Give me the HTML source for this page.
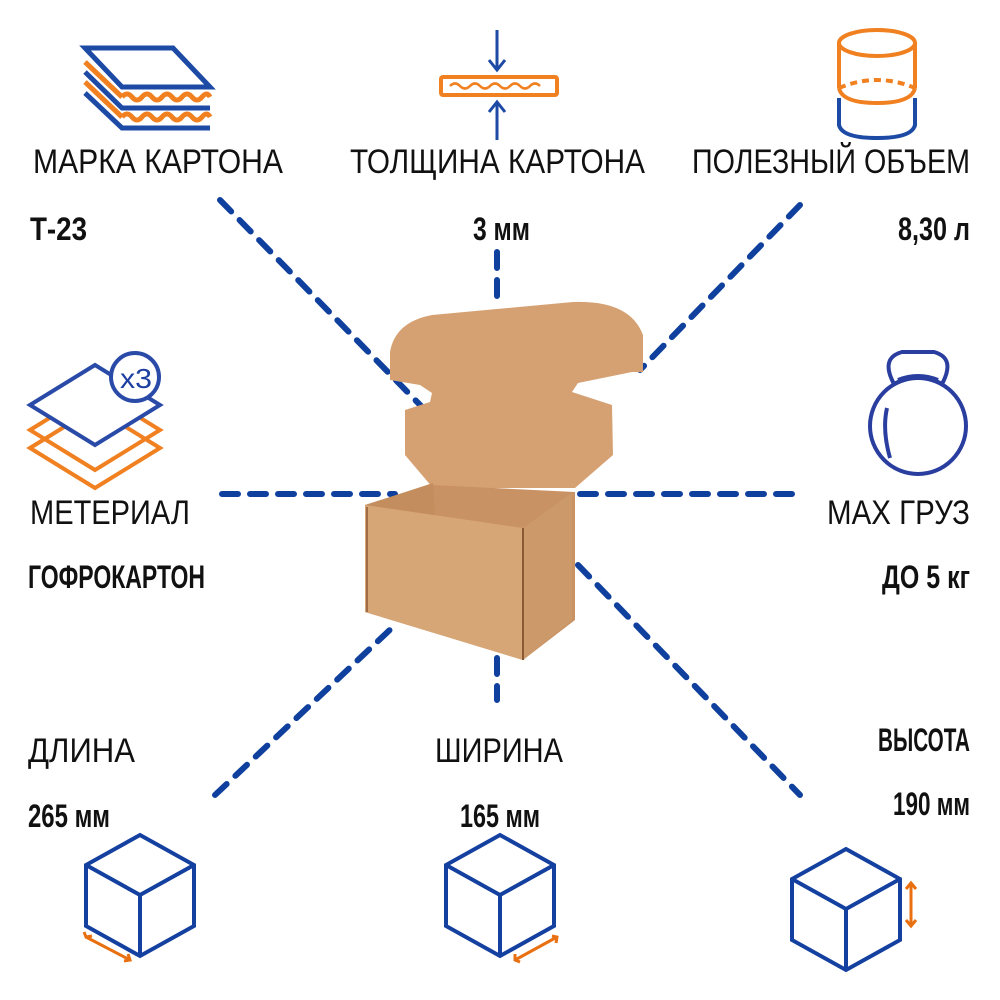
<!DOCTYPE html>
<html><head><meta charset="utf-8"><style>
html,body{margin:0;padding:0;background:#fff;}
svg{display:block;}
.t{font-family:"Liberation Sans","DejaVu Sans",sans-serif;fill:#111;}
.b{font-weight:bold;}
</style></head><body>
<svg width="1000" height="1000" viewBox="0 0 1000 1000" xmlns="http://www.w3.org/2000/svg">
<defs>
<linearGradient id="cb" x1="0" y1="0" x2="1" y2="1"><stop offset="0" stop-color="#d9a577"/><stop offset="1" stop-color="#cf9866"/></linearGradient>
</defs>
<!-- dashed connectors -->
<g stroke="#0f409e" stroke-width="6" stroke-dasharray="16 12" stroke-linecap="round" fill="none">
<line x1="220" y1="200" x2="425" y2="410"/>
<line x1="497" y1="252" x2="497" y2="305"/>
<line x1="800" y1="205" x2="640" y2="370"/>
<line x1="222" y1="494" x2="395" y2="494"/>
<line x1="580" y1="494" x2="800" y2="494"/>
<line x1="215" y1="795" x2="395" y2="625"/>
<line x1="497" y1="658" x2="497" y2="700"/>
<line x1="578" y1="565" x2="800" y2="795"/>
</g>
<!-- box -->
<path d="M390,380 L390,352 Q395,322 432,315 L573,302 Q630,300 643,335 L643,372 L632,372 L578,383 L572,392 L612,405 L613,455 L575,488 L433,488 L405,455 L405,410 L430,402 L432,393 L420,385 Z" fill="#d6a172"/>
<path d="M433,485 L575,492 L575,620 L523,660 L365,612 L365,505 Z" fill="#c99264"/>
<path d="M365,505 L433,483 L438,560 L365,560 Z" fill="#c48d5e"/>
<path d="M365,505 L523,528 L523,660 L365,612 Z" fill="#d7a676"/>
<path d="M523,528 L572,493 L572,620 L523,660 Z" fill="#cc9a6a"/>
<line x1="523" y1="528" x2="523" y2="660" stroke="#8a5a35" stroke-width="2"/>
<line x1="367" y1="507" x2="367" y2="612" stroke="#8a5a35" stroke-width="1.5"/>
<!-- top-left layers icon -->
<g fill="none" stroke-width="5">
<path d="M85,48 L173,48 L210,87 L122,87 Z" stroke="#1c4aa5"/>
<path d="M85,62 L122,97" stroke="#f08020"/>
<path d="M122,97 q5,-6 10,0 t10,0 t10,0 t10,0 t10,0 t10,0 t10,0 t10,0 t8,0" stroke="#f08020"/>
<path d="M85,72 L122,108 L210,108" stroke="#1c4aa5"/>
<path d="M85,82 L122,117" stroke="#f08020"/>
<path d="M122,117 q5,-6 10,0 t10,0 t10,0 t10,0 t10,0 t10,0 t10,0 t10,0 t8,0" stroke="#f08020"/>
<path d="M85,93 L122,128 L210,128" stroke="#1c4aa5"/>
</g>
<!-- thickness icon -->
<g fill="none" stroke-width="3">
<line x1="497" y1="30" x2="497" y2="70" stroke="#1c4aa5"/>
<path d="M489,60 L497,70 L505,60" stroke="#1c4aa5"/>
<line x1="497" y1="140" x2="497" y2="102" stroke="#1c4aa5"/>
<path d="M489,112 L497,102 L505,112" stroke="#1c4aa5"/>
<rect x="441" y="77" width="116" height="18" rx="2" stroke="#f08020" stroke-width="4"/>
<path d="M450,86 q5,-5 10,0 t10,0 t10,0 t10,0 t10,0 t10,0 t10,0 t10,0 t10,0" stroke="#f08020" stroke-width="2.5"/>
</g>
<!-- cylinder -->
<g fill="none" stroke-width="4">
<ellipse cx="877" cy="43" rx="38" ry="13" stroke="#f08020"/>
<line x1="839" y1="43" x2="839" y2="88" stroke="#f08020"/>
<line x1="915" y1="43" x2="915" y2="88" stroke="#f08020"/>
<path d="M839,88 Q877,72 915,88" stroke="#f08020" stroke-dasharray="7 5"/>
<path d="M839,88 Q842,103 877,103 Q912,103 915,88" stroke="#f08020"/>
<path d="M839,98 L839,125 Q842,138 877,138 Q912,138 915,125 L915,98" stroke="#1c4aa5"/>
</g>
<!-- material icon -->
<g fill="none" stroke-width="4">
<path d="M30,470 L95,430 L160,470 L95,510 Z" stroke="#f08020" transform="translate(0,-22)"/>
<path d="M30,430 L95,390 L160,430 L95,470 Z" stroke="#f08020"/>
<path d="M30,405 L95,365 L160,405 L95,445 Z" stroke="#2a4aa8" fill="#fff"/>
<circle cx="135" cy="377" r="24" stroke="#2a4aa8" fill="#fff"/>
</g>
<text x="120" y="388" class="t" style="fill:#1c3fa0" font-size="28" textLength="32" lengthAdjust="spacingAndGlyphs">x3</text>
<!-- kettlebell -->
<g fill="none" stroke="#2a3ea0" stroke-width="4">
<circle cx="918" cy="426" r="48"/>
<path d="M894,384 Q880,358 902,352 L934,352 Q956,358 942,384 Q918,370 894,384 Z" fill="#fff"/>
<path d="M898,380 Q918,372 938,380" />
<path d="M887,408 Q882,430 890,458"/>
</g>
<!-- cubes -->
<g fill="none" stroke="#1440a0" stroke-width="4">
<g transform="translate(140,888)">
<path d="M0,-53 L54,-23 L54,38 L0,68 L-54,38 L-54,-23 Z M-54,-23 L0,7 L54,-23 M0,7 L0,68"/>
</g>
<g transform="translate(500,888)">
<path d="M0,-53 L54,-23 L54,38 L0,68 L-54,38 L-54,-23 Z M-54,-23 L0,7 L54,-23 M0,7 L0,68"/>
</g>
<g transform="translate(846,902)">
<path d="M0,-53 L54,-23 L54,38 L0,68 L-54,38 L-54,-23 Z M-54,-23 L0,7 L54,-23 M0,7 L0,68"/>
</g>
</g>
<g fill="none" stroke="#e87010" stroke-width="3">
<path d="M86,937 L130,960 M84,932 L86,937 L92,936 M124,961 L130,960 L128,954"/>
<path d="M515,960 L557,937 M515,954 L515,960 L520,962 M552,936 L557,937 L556,943"/>
<path d="M911,883 L911,926 M906,889 L911,883 L916,889 M906,920 L911,926 L916,920"/>
</g>
<!-- texts -->
<g class="t" font-size="34">
<text x="33" y="173" textLength="250" lengthAdjust="spacingAndGlyphs">МАРКА КАРТОНА</text>
<text x="350" y="173" textLength="295" lengthAdjust="spacingAndGlyphs">ТОЛЩИНА КАРТОНА</text>
<text x="692" y="173" textLength="278" lengthAdjust="spacingAndGlyphs">ПОЛЕЗНЫЙ ОБЪЕМ</text>
<text x="30" y="524" textLength="160" lengthAdjust="spacingAndGlyphs">МЕТЕРИАЛ</text>
<text x="827" y="524" textLength="143" lengthAdjust="spacingAndGlyphs">MAX ГРУЗ</text>
<text x="28" y="762" textLength="107" lengthAdjust="spacingAndGlyphs">ДЛИНА</text>
<text x="435" y="762" textLength="128" lengthAdjust="spacingAndGlyphs">ШИРИНА</text>
</g>
<g class="t b" font-size="32">
<text x="30" y="240" textLength="57" lengthAdjust="spacingAndGlyphs">Т-23</text>
<text x="473" y="240" textLength="57" lengthAdjust="spacingAndGlyphs">3 мм</text>
<text x="898" y="240" textLength="72" lengthAdjust="spacingAndGlyphs">8,30 л</text>
<text x="28" y="588" textLength="177" lengthAdjust="spacingAndGlyphs">ГОФРОКАРТОН</text>
<text x="882" y="588" textLength="88" lengthAdjust="spacingAndGlyphs">ДО 5 кг</text>
<text x="878" y="751" textLength="92" lengthAdjust="spacingAndGlyphs">ВЫСОТА</text>
<text x="28" y="827" textLength="82" lengthAdjust="spacingAndGlyphs">265 мм</text>
<text x="460" y="827" textLength="80" lengthAdjust="spacingAndGlyphs">165 мм</text>
<text x="893" y="815" textLength="77" lengthAdjust="spacingAndGlyphs">190 мм</text>
</g>
</svg>
</body></html>
